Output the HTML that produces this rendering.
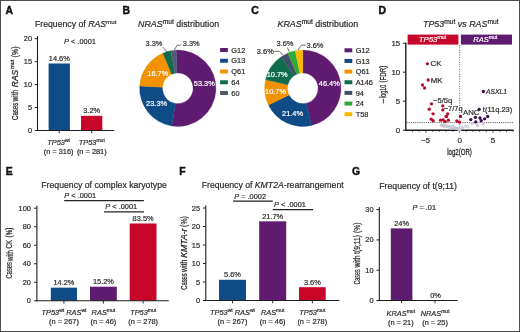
<!DOCTYPE html>
<html><head><meta charset="utf-8"><style>
html,body{margin:0;padding:0;background:#fff;}
#f{position:absolute;left:0;top:0;width:520px;height:332px;box-sizing:border-box;border:1px solid #4d4d4d;background:#fff;overflow:hidden;}
svg{position:absolute;left:-1px;top:-1px;font-family:"Liberation Sans", sans-serif;filter:blur(0.3px);}
</style></head><body><div id="f">
<svg width="520" height="332" viewBox="0 0 520 332">
<text x="5.40" y="13.70" font-size="10.40" text-anchor="start" fill="#111" font-weight="bold" stroke="#111" stroke-width="0.45"><tspan >A</tspan></text>
<text x="35.00" y="27.30" font-size="8.70" text-anchor="start" fill="#2a2a2a" stroke="#2a2a2a" stroke-width="0.20" ><tspan >Frequency of </tspan><tspan font-style="italic">RAS</tspan><tspan font-size="6.26" dy="-3.22">mut</tspan></text>
<text x="64.00" y="44.00" font-size="7.40" text-anchor="start" fill="#2a2a2a" stroke="#2a2a2a" stroke-width="0.20" ><tspan font-style="italic">P</tspan><tspan > &lt; .0001</tspan></text>
<line x1="37.50" y1="131.05" x2="37.50" y2="36.20" stroke="#1e1e1e" stroke-width="1.10" />
<line x1="34.70" y1="130.50" x2="37.50" y2="130.50" stroke="#1e1e1e" stroke-width="1.00" />
<text x="32.10" y="133.05" font-size="7.40" text-anchor="end" fill="#2a2a2a" stroke="#2a2a2a" stroke-width="0.20" ><tspan >0</tspan></text>
<line x1="34.70" y1="107.55" x2="37.50" y2="107.55" stroke="#1e1e1e" stroke-width="1.00" />
<text x="32.10" y="110.10" font-size="7.40" text-anchor="end" fill="#2a2a2a" stroke="#2a2a2a" stroke-width="0.20" ><tspan >5</tspan></text>
<line x1="34.70" y1="84.60" x2="37.50" y2="84.60" stroke="#1e1e1e" stroke-width="1.00" />
<text x="32.10" y="87.15" font-size="7.40" text-anchor="end" fill="#2a2a2a" stroke="#2a2a2a" stroke-width="0.20" ><tspan >10</tspan></text>
<line x1="34.70" y1="61.65" x2="37.50" y2="61.65" stroke="#1e1e1e" stroke-width="1.00" />
<text x="32.10" y="64.20" font-size="7.40" text-anchor="end" fill="#2a2a2a" stroke="#2a2a2a" stroke-width="0.20" ><tspan >15</tspan></text>
<line x1="34.70" y1="38.70" x2="37.50" y2="38.70" stroke="#1e1e1e" stroke-width="1.00" />
<text x="32.10" y="41.25" font-size="7.40" text-anchor="end" fill="#2a2a2a" stroke="#2a2a2a" stroke-width="0.20" ><tspan >20</tspan></text>
<rect x="48.60" y="63.49" width="21.30" height="67.01" fill="#0f4b86"/>
<line x1="59.25" y1="130.50" x2="59.25" y2="133.30" stroke="#1e1e1e" stroke-width="0.90" />
<text x="59.25" y="60.89" font-size="7.40" text-anchor="middle" fill="#2a2a2a" stroke="#2a2a2a" stroke-width="0.20" ><tspan >14.6%</tspan></text>
<rect x="81.00" y="115.81" width="21.30" height="14.69" fill="#c8062a"/>
<line x1="91.65" y1="130.50" x2="91.65" y2="133.30" stroke="#1e1e1e" stroke-width="0.90" />
<text x="91.65" y="113.21" font-size="7.40" text-anchor="middle" fill="#2a2a2a" stroke="#2a2a2a" stroke-width="0.20" ><tspan >3.2%</tspan></text>
<line x1="36.95" y1="130.50" x2="114.40" y2="130.50" stroke="#1e1e1e" stroke-width="1.10" />
<text x="58.60" y="145.10" font-size="7.40" text-anchor="middle" fill="#2a2a2a" stroke="#2a2a2a" stroke-width="0.20" ><tspan font-style="italic">TP53</tspan><tspan font-size="5.03" dy="-2.96">wt</tspan></text>
<text x="58.60" y="154.30" font-size="7.40" text-anchor="middle" fill="#2a2a2a" stroke="#2a2a2a" stroke-width="0.20" ><tspan >(n = 316)</tspan></text>
<text x="91.80" y="145.10" font-size="7.40" text-anchor="middle" fill="#2a2a2a" stroke="#2a2a2a" stroke-width="0.20" ><tspan font-style="italic">TP53</tspan><tspan font-size="5.03" dy="-2.96">mut</tspan></text>
<text x="91.80" y="154.30" font-size="7.40" text-anchor="middle" fill="#2a2a2a" stroke="#2a2a2a" stroke-width="0.20" ><tspan >(n = 281)</tspan></text>
<text x="17.60" y="120.00" font-size="8.30" text-anchor="start" fill="#2a2a2a" textLength="17.20" lengthAdjust="spacingAndGlyphs" transform="rotate(-90 17.60 120.00)"  stroke="#2a2a2a" stroke-width="0.25"><tspan >Cases</tspan></text>
<text x="17.60" y="101.60" font-size="8.30" text-anchor="start" fill="#2a2a2a" textLength="11.80" lengthAdjust="spacingAndGlyphs" transform="rotate(-90 17.60 101.60)"  stroke="#2a2a2a" stroke-width="0.25"><tspan >with</tspan></text>
<text x="17.60" y="87.20" font-size="8.30" text-anchor="start" fill="#2a2a2a" textLength="17.40" lengthAdjust="spacingAndGlyphs" transform="rotate(-90 17.60 87.20)" font-style="italic" stroke="#2a2a2a" stroke-width="0.25"><tspan >RAS</tspan></text>
<text x="14.28" y="68.80" font-size="5.64" text-anchor="start" fill="#2a2a2a" textLength="9.00" lengthAdjust="spacingAndGlyphs" transform="rotate(-90 14.28 68.80)"  stroke="#2a2a2a" stroke-width="0.25"><tspan >mut</tspan></text>
<text x="17.60" y="57.40" font-size="8.30" text-anchor="start" fill="#2a2a2a" textLength="11.00" lengthAdjust="spacingAndGlyphs" transform="rotate(-90 17.60 57.40)"  stroke="#2a2a2a" stroke-width="0.25"><tspan >(%)</tspan></text>
<text x="122.60" y="13.70" font-size="10.40" text-anchor="start" fill="#111" font-weight="bold" stroke="#111" stroke-width="0.45"><tspan >B</tspan></text>
<text x="138.00" y="26.50" font-size="8.90" text-anchor="start" fill="#2a2a2a" stroke="#2a2a2a" stroke-width="0.20" ><tspan font-style="italic">NRAS</tspan><tspan font-size="6.68" dy="-2.67">mut</tspan><tspan dy="2.67"> distribution</tspan></text>
<path d="M176.134 50.136 A38.200 38.200 0 1 1 171.824 126.030 L175.407 103.412 A15.300 15.300 0 1 0 177.133 73.015 Z" fill="#5e1b6f" stroke="#5e1b6f" stroke-width="0.3"/>
<path d="M171.824 126.030 A38.200 38.200 0 0 1 139.671 85.968 L162.529 87.366 A15.300 15.300 0 0 0 175.407 103.412 Z" fill="#0f4b86" stroke="#0f4b86" stroke-width="0.3"/>
<path d="M139.671 85.968 A38.200 38.200 0 0 1 162.874 53.137 L171.822 74.216 A15.300 15.300 0 0 0 162.529 87.366 Z" fill="#f39200" stroke="#f39200" stroke-width="0.3"/>
<path d="M162.874 53.137 A38.200 38.200 0 0 1 170.839 50.740 L175.012 73.256 A15.300 15.300 0 0 0 171.822 74.216 Z" fill="#116c4e" stroke="#116c4e" stroke-width="0.3"/>
<path d="M170.839 50.740 A38.200 38.200 0 0 1 176.134 50.136 L177.133 73.015 A15.300 15.300 0 0 0 175.012 73.256 Z" fill="#505c76" stroke="#505c76" stroke-width="0.3"/>
<rect x="220.10" y="48.00" width="7.80" height="4.00" fill="#5e1b6f"/>
<text x="231.30" y="52.65" font-size="7.40" text-anchor="start" fill="#2a2a2a" stroke="#2a2a2a" stroke-width="0.20" ><tspan >G12</tspan></text>
<rect x="220.10" y="58.75" width="7.80" height="4.00" fill="#0f4b86"/>
<text x="231.30" y="63.40" font-size="7.40" text-anchor="start" fill="#2a2a2a" stroke="#2a2a2a" stroke-width="0.20" ><tspan >G13</tspan></text>
<rect x="220.10" y="69.50" width="7.80" height="4.00" fill="#f39200"/>
<text x="231.30" y="74.15" font-size="7.40" text-anchor="start" fill="#2a2a2a" stroke="#2a2a2a" stroke-width="0.20" ><tspan >Q61</tspan></text>
<rect x="220.10" y="80.25" width="7.80" height="4.00" fill="#116c4e"/>
<text x="231.30" y="84.90" font-size="7.40" text-anchor="start" fill="#2a2a2a" stroke="#2a2a2a" stroke-width="0.20" ><tspan >64</tspan></text>
<rect x="220.10" y="91.00" width="7.80" height="4.00" fill="#4c576e"/>
<text x="231.30" y="95.65" font-size="7.40" text-anchor="start" fill="#2a2a2a" stroke="#2a2a2a" stroke-width="0.20" ><tspan >60</tspan></text>
<text x="204.30" y="85.60" font-size="7.40" text-anchor="middle" fill="#fff" stroke="#fff" stroke-width="0.20" ><tspan >53.3%</tspan></text>
<text x="156.60" y="106.20" font-size="7.40" text-anchor="middle" fill="#fff" stroke="#fff" stroke-width="0.20" ><tspan >23.3%</tspan></text>
<text x="157.80" y="75.60" font-size="7.40" text-anchor="middle" fill="#fff" stroke="#fff" stroke-width="0.20" ><tspan >16.7%</tspan></text>
<text x="154.00" y="46.40" font-size="7.40" text-anchor="middle" fill="#2a2a2a" stroke="#2a2a2a" stroke-width="0.20" ><tspan >3.3%</tspan></text>
<text x="191.20" y="46.40" font-size="7.40" text-anchor="middle" fill="#2a2a2a" stroke="#2a2a2a" stroke-width="0.20" ><tspan >3.3%</tspan></text>
<polyline points="162.90,47.20 167.60,52.80" fill="none" stroke="#333" stroke-width="0.70"/>
<polyline points="181.00,45.20 177.20,45.20 174.00,50.50" fill="none" stroke="#333" stroke-width="0.70"/>
<text x="251.20" y="13.70" font-size="10.40" text-anchor="start" fill="#111" font-weight="bold" stroke="#111" stroke-width="0.45"><tspan >C</tspan></text>
<text x="277.50" y="26.50" font-size="8.90" text-anchor="start" fill="#2a2a2a" stroke="#2a2a2a" stroke-width="0.20" ><tspan font-style="italic">KRAS</tspan><tspan font-size="6.68" dy="-2.67">mut</tspan><tspan dy="2.67"> distribution</tspan></text>
<path d="M302.800 50.100 A38.200 38.200 0 0 1 311.393 125.521 L306.242 103.208 A15.300 15.300 0 0 0 302.800 73.000 Z" fill="#5e1b6f" stroke="#5e1b6f" stroke-width="0.3"/>
<path d="M311.393 125.521 A38.200 38.200 0 0 1 268.466 105.046 L289.048 95.007 A15.300 15.300 0 0 0 306.242 103.208 Z" fill="#0f4b86" stroke="#0f4b86" stroke-width="0.3"/>
<path d="M268.466 105.046 A38.200 38.200 0 0 1 265.579 79.707 L287.892 84.858 A15.300 15.300 0 0 0 289.048 95.007 Z" fill="#f39200" stroke="#f39200" stroke-width="0.3"/>
<path d="M265.579 79.707 A38.200 38.200 0 0 1 281.163 56.818 L294.134 75.691 A15.300 15.300 0 0 0 287.892 84.858 Z" fill="#116c4e" stroke="#116c4e" stroke-width="0.3"/>
<path d="M281.163 56.818 A38.200 38.200 0 0 1 287.874 53.137 L296.822 74.216 A15.300 15.300 0 0 0 294.134 75.691 Z" fill="#415069" stroke="#415069" stroke-width="0.3"/>
<path d="M287.874 53.137 A38.200 38.200 0 0 1 295.184 50.867 L299.750 73.307 A15.300 15.300 0 0 0 296.822 74.216 Z" fill="#2ea836" stroke="#2ea836" stroke-width="0.3"/>
<path d="M295.184 50.867 A38.200 38.200 0 0 1 302.800 50.100 L302.800 73.000 A15.300 15.300 0 0 0 299.750 73.307 Z" fill="#f9b900" stroke="#f9b900" stroke-width="0.3"/>
<rect x="344.50" y="48.30" width="7.80" height="4.00" fill="#5e1b6f"/>
<text x="355.70" y="52.95" font-size="7.40" text-anchor="start" fill="#2a2a2a" stroke="#2a2a2a" stroke-width="0.20" ><tspan >G12</tspan></text>
<rect x="344.50" y="58.95" width="7.80" height="4.00" fill="#0f4b86"/>
<text x="355.70" y="63.60" font-size="7.40" text-anchor="start" fill="#2a2a2a" stroke="#2a2a2a" stroke-width="0.20" ><tspan >G13</tspan></text>
<rect x="344.50" y="69.60" width="7.80" height="4.00" fill="#f39200"/>
<text x="355.70" y="74.25" font-size="7.40" text-anchor="start" fill="#2a2a2a" stroke="#2a2a2a" stroke-width="0.20" ><tspan >Q61</tspan></text>
<rect x="344.50" y="80.25" width="7.80" height="4.00" fill="#116c4e"/>
<text x="355.70" y="84.90" font-size="7.40" text-anchor="start" fill="#2a2a2a" stroke="#2a2a2a" stroke-width="0.20" ><tspan >A146</tspan></text>
<rect x="344.50" y="90.90" width="7.80" height="4.00" fill="#415069"/>
<text x="355.70" y="95.55" font-size="7.40" text-anchor="start" fill="#2a2a2a" stroke="#2a2a2a" stroke-width="0.20" ><tspan >94</tspan></text>
<rect x="344.50" y="101.55" width="7.80" height="4.00" fill="#2ea836"/>
<text x="355.70" y="106.20" font-size="7.40" text-anchor="start" fill="#2a2a2a" stroke="#2a2a2a" stroke-width="0.20" ><tspan >24</tspan></text>
<rect x="344.50" y="112.20" width="7.80" height="4.00" fill="#f9b900"/>
<text x="355.70" y="116.85" font-size="7.40" text-anchor="start" fill="#2a2a2a" stroke="#2a2a2a" stroke-width="0.20" ><tspan >T58</tspan></text>
<text x="329.30" y="86.20" font-size="7.40" text-anchor="middle" fill="#fff" stroke="#fff" stroke-width="0.20" ><tspan >46.4%</tspan></text>
<text x="292.50" y="115.80" font-size="7.40" text-anchor="middle" fill="#fff" stroke="#fff" stroke-width="0.20" ><tspan >21.4%</tspan></text>
<text x="275.50" y="93.60" font-size="7.40" text-anchor="middle" fill="#fff" stroke="#fff" stroke-width="0.20" ><tspan >10.7%</tspan></text>
<text x="277.20" y="77.20" font-size="7.40" text-anchor="middle" fill="#fff" stroke="#fff" stroke-width="0.20" ><tspan >10.7%</tspan></text>
<text x="265.30" y="53.60" font-size="7.40" text-anchor="middle" fill="#2a2a2a" stroke="#2a2a2a" stroke-width="0.20" ><tspan >3.6%</tspan></text>
<text x="285.00" y="45.90" font-size="7.40" text-anchor="middle" fill="#2a2a2a" stroke="#2a2a2a" stroke-width="0.20" ><tspan >3.6%</tspan></text>
<text x="315.00" y="47.90" font-size="7.40" text-anchor="middle" fill="#2a2a2a" stroke="#2a2a2a" stroke-width="0.20" ><tspan >3.6%</tspan></text>
<polyline points="274.20,51.40 279.60,51.40 283.50,55.40" fill="none" stroke="#333" stroke-width="0.70"/>
<polyline points="287.30,47.50 289.60,52.40" fill="none" stroke="#333" stroke-width="0.70"/>
<polyline points="305.80,45.20 301.20,45.20 298.20,50.00" fill="none" stroke="#333" stroke-width="0.70"/>
<text x="378.50" y="13.70" font-size="10.40" text-anchor="start" fill="#111" font-weight="bold" stroke="#111" stroke-width="0.45"><tspan >D</tspan></text>
<text x="423.00" y="26.50" font-size="8.90" text-anchor="start" fill="#2a2a2a" stroke="#2a2a2a" stroke-width="0.20" ><tspan font-style="italic">TP53</tspan><tspan font-size="6.68" dy="-2.67">mut</tspan><tspan font-style="italic" dy="2.67"> vs </tspan><tspan font-style="italic">RAS</tspan><tspan font-size="6.68" dy="-2.67">mut</tspan></text>
<rect x="407.60" y="34.60" width="50.80" height="10.00" fill="#c8062a"/>
<rect x="460.90" y="34.60" width="51.10" height="10.00" fill="#5e1b6f"/>
<text x="432.50" y="42.30" font-size="7.80" text-anchor="middle" fill="#fff" stroke="#fff" stroke-width="0.20" ><tspan font-style="italic">TP53</tspan><tspan font-size="5.30" dy="-3.12">mut</tspan></text>
<text x="485.20" y="42.30" font-size="7.50" text-anchor="middle" fill="#fff" stroke="#fff" stroke-width="0.20" ><tspan font-style="italic">RAS</tspan><tspan font-size="5.10" dy="-3.00">mut</tspan></text>
<line x1="405.80" y1="130.90" x2="405.80" y2="42.70" stroke="#1e1e1e" stroke-width="1.40" />
<line x1="403.00" y1="130.20" x2="405.80" y2="130.20" stroke="#1e1e1e" stroke-width="1.00" />
<text x="400.20" y="132.93" font-size="7.90" text-anchor="end" fill="#2a2a2a" stroke="#2a2a2a" stroke-width="0.20" ><tspan >0</tspan></text>
<line x1="403.00" y1="101.20" x2="405.80" y2="101.20" stroke="#1e1e1e" stroke-width="1.00" />
<text x="400.20" y="103.93" font-size="7.90" text-anchor="end" fill="#2a2a2a" stroke="#2a2a2a" stroke-width="0.20" ><tspan >5</tspan></text>
<line x1="403.00" y1="72.20" x2="405.80" y2="72.20" stroke="#1e1e1e" stroke-width="1.00" />
<text x="400.20" y="74.93" font-size="7.90" text-anchor="end" fill="#2a2a2a" stroke="#2a2a2a" stroke-width="0.20" ><tspan >10</tspan></text>
<line x1="403.00" y1="43.20" x2="405.80" y2="43.20" stroke="#1e1e1e" stroke-width="1.00" />
<text x="400.20" y="45.93" font-size="7.90" text-anchor="end" fill="#2a2a2a" stroke="#2a2a2a" stroke-width="0.20" ><tspan >15</tspan></text>
<line x1="405.10" y1="130.20" x2="513.60" y2="130.20" stroke="#1e1e1e" stroke-width="1.40" />
<line x1="412.46" y1="130.00" x2="412.46" y2="131.80" stroke="#1e1e1e" stroke-width="0.80" />
<line x1="419.18" y1="130.00" x2="419.18" y2="131.80" stroke="#1e1e1e" stroke-width="0.80" />
<line x1="425.90" y1="130.00" x2="425.90" y2="132.60" stroke="#1e1e1e" stroke-width="0.80" />
<line x1="432.62" y1="130.00" x2="432.62" y2="131.80" stroke="#1e1e1e" stroke-width="0.80" />
<line x1="439.34" y1="130.00" x2="439.34" y2="131.80" stroke="#1e1e1e" stroke-width="0.80" />
<line x1="446.06" y1="130.00" x2="446.06" y2="131.80" stroke="#1e1e1e" stroke-width="0.80" />
<line x1="452.78" y1="130.00" x2="452.78" y2="131.80" stroke="#1e1e1e" stroke-width="0.80" />
<line x1="459.50" y1="130.00" x2="459.50" y2="132.60" stroke="#1e1e1e" stroke-width="0.80" />
<line x1="466.22" y1="130.00" x2="466.22" y2="131.80" stroke="#1e1e1e" stroke-width="0.80" />
<line x1="472.94" y1="130.00" x2="472.94" y2="131.80" stroke="#1e1e1e" stroke-width="0.80" />
<line x1="479.66" y1="130.00" x2="479.66" y2="131.80" stroke="#1e1e1e" stroke-width="0.80" />
<line x1="486.38" y1="130.00" x2="486.38" y2="131.80" stroke="#1e1e1e" stroke-width="0.80" />
<line x1="493.10" y1="130.00" x2="493.10" y2="132.60" stroke="#1e1e1e" stroke-width="0.80" />
<line x1="499.82" y1="130.00" x2="499.82" y2="131.80" stroke="#1e1e1e" stroke-width="0.80" />
<line x1="506.54" y1="130.00" x2="506.54" y2="131.80" stroke="#1e1e1e" stroke-width="0.80" />
<line x1="513.26" y1="130.00" x2="513.26" y2="131.80" stroke="#1e1e1e" stroke-width="0.80" />
<text x="425.50" y="142.70" font-size="8.10" text-anchor="middle" fill="#2a2a2a" stroke="#2a2a2a" stroke-width="0.20" ><tspan >−5</tspan></text>
<text x="459.80" y="142.70" font-size="8.10" text-anchor="middle" fill="#2a2a2a" stroke="#2a2a2a" stroke-width="0.20" ><tspan >0</tspan></text>
<text x="493.10" y="142.70" font-size="8.10" text-anchor="middle" fill="#2a2a2a" stroke="#2a2a2a" stroke-width="0.20" ><tspan >5</tspan></text>
<text x="459.50" y="154.60" font-size="8.80" text-anchor="middle" fill="#2a2a2a" textLength="24.60" lengthAdjust="spacingAndGlyphs" stroke="#2a2a2a" stroke-width="0.3"><tspan >log2(OR)</tspan></text>
<text x="385.80" y="103.60" font-size="8.20" text-anchor="start" fill="#2a2a2a" textLength="5.40" lengthAdjust="spacingAndGlyphs" transform="rotate(-90 385.80 103.60)"  stroke="#2a2a2a" stroke-width="0.25"><tspan >−</tspan></text>
<text x="385.80" y="97.80" font-size="8.20" text-anchor="start" fill="#2a2a2a" textLength="12.90" lengthAdjust="spacingAndGlyphs" transform="rotate(-90 385.80 97.80)"  stroke="#2a2a2a" stroke-width="0.25"><tspan >log10</tspan></text>
<text x="385.80" y="82.60" font-size="8.20" text-anchor="start" fill="#2a2a2a" textLength="16.80" lengthAdjust="spacingAndGlyphs" transform="rotate(-90 385.80 82.60)"  stroke="#2a2a2a" stroke-width="0.25"><tspan >(FDR)</tspan></text>
<line x1="459.60" y1="45.00" x2="459.60" y2="130.00" stroke="#444" stroke-width="0.80" stroke-dasharray="1 1.4"/>
<line x1="406.50" y1="122.60" x2="513.00" y2="122.60" stroke="#333" stroke-width="0.90" stroke-dasharray="1 1.15"/>
<circle cx="441.34" cy="125.05" r="1.60" fill="#d8c4d0"/>
<circle cx="442.67" cy="125.40" r="1.60" fill="#c2c6d0"/>
<circle cx="444.13" cy="125.04" r="1.60" fill="#bccccc"/>
<circle cx="444.71" cy="126.24" r="1.60" fill="#c8c4d0"/>
<circle cx="446.16" cy="125.80" r="1.60" fill="#bec4ce"/>
<circle cx="448.10" cy="126.36" r="1.60" fill="#d8c4d0"/>
<circle cx="449.14" cy="126.65" r="1.60" fill="#c2c6d0"/>
<circle cx="450.14" cy="126.54" r="1.60" fill="#bccccc"/>
<circle cx="451.33" cy="127.68" r="1.60" fill="#c8c4d0"/>
<circle cx="452.42" cy="127.81" r="1.60" fill="#bec4ce"/>
<circle cx="453.77" cy="127.28" r="1.60" fill="#d8c4d0"/>
<circle cx="455.06" cy="128.19" r="1.60" fill="#c2c6d0"/>
<circle cx="455.80" cy="127.80" r="1.60" fill="#bccccc"/>
<circle cx="457.57" cy="128.61" r="1.60" fill="#c8c4d0"/>
<circle cx="458.62" cy="129.37" r="1.60" fill="#bec4ce"/>
<circle cx="459.81" cy="129.71" r="1.60" fill="#d8c4d0"/>
<circle cx="446.00" cy="126.80" r="1.60" fill="#d6c8d6"/>
<circle cx="450.00" cy="127.80" r="1.60" fill="#ccd0d8"/>
<circle cx="453.00" cy="126.20" r="1.60" fill="#c8d0d6"/>
<circle cx="462.50" cy="127.60" r="1.60" fill="#cdd0d8"/>
<circle cx="465.50" cy="126.00" r="1.60" fill="#d2d4dc"/>
<circle cx="468.00" cy="126.80" r="1.60" fill="#d6d6de"/>
<circle cx="472.30" cy="123.30" r="1.60" fill="#d6c8de"/>
<circle cx="477.70" cy="125.30" r="1.60" fill="#d0c4dc"/>
<circle cx="483.00" cy="123.30" r="1.60" fill="#d4c8e0"/>
<circle cx="427.40" cy="63.80" r="1.65" fill="#b80a2c"/>
<circle cx="428.20" cy="80.00" r="1.65" fill="#b80a2c"/>
<circle cx="422.50" cy="85.00" r="1.65" fill="#b80a2c"/>
<circle cx="424.60" cy="88.00" r="1.65" fill="#b80a2c"/>
<circle cx="431.50" cy="103.80" r="1.65" fill="#b80a2c"/>
<circle cx="429.20" cy="109.20" r="1.65" fill="#b80a2c"/>
<circle cx="433.10" cy="113.80" r="1.65" fill="#b80a2c"/>
<circle cx="431.20" cy="119.20" r="1.65" fill="#b80a2c"/>
<circle cx="433.10" cy="120.70" r="1.65" fill="#b80a2c"/>
<circle cx="442.80" cy="105.80" r="1.65" fill="#b80a2c"/>
<circle cx="442.80" cy="109.90" r="1.65" fill="#b80a2c"/>
<circle cx="447.70" cy="113.80" r="1.65" fill="#b80a2c"/>
<circle cx="446.20" cy="116.50" r="1.65" fill="#b80a2c"/>
<circle cx="440.60" cy="120.20" r="1.65" fill="#b80a2c"/>
<circle cx="443.20" cy="119.90" r="1.65" fill="#b80a2c"/>
<circle cx="445.20" cy="121.60" r="1.65" fill="#b80a2c"/>
<circle cx="448.40" cy="120.20" r="1.65" fill="#b80a2c"/>
<circle cx="446.50" cy="116.30" r="1.65" fill="#b80a2c"/>
<circle cx="456.90" cy="120.90" r="1.65" fill="#b80a2c"/>
<circle cx="459.50" cy="122.20" r="1.65" fill="#b80a2c"/>
<circle cx="460.50" cy="116.40" r="1.65" fill="#7a1035"/>
<circle cx="483.40" cy="91.50" r="1.65" fill="#3a0d50"/>
<circle cx="479.20" cy="109.30" r="1.65" fill="#3a0d50"/>
<circle cx="470.80" cy="119.60" r="1.65" fill="#3a0d50"/>
<circle cx="475.40" cy="117.30" r="1.65" fill="#3a0d50"/>
<circle cx="475.70" cy="121.90" r="1.65" fill="#3a0d50"/>
<circle cx="480.00" cy="118.00" r="1.65" fill="#3a0d50"/>
<circle cx="481.20" cy="120.70" r="1.65" fill="#3a0d50"/>
<circle cx="484.60" cy="118.80" r="1.65" fill="#3a0d50"/>
<circle cx="487.70" cy="116.50" r="1.65" fill="#3a0d50"/>
<text x="430.50" y="66.40" font-size="7.80" text-anchor="start" fill="#2a2a2a" stroke="#2a2a2a" stroke-width="0.20" ><tspan >CK</tspan></text>
<text x="430.80" y="82.60" font-size="7.80" text-anchor="start" fill="#2a2a2a" stroke="#2a2a2a" stroke-width="0.20" ><tspan >MK</tspan></text>
<text x="433.00" y="103.20" font-size="7.60" text-anchor="start" fill="#2a2a2a" stroke="#2a2a2a" stroke-width="0.20" ><tspan >−5/5q</tspan></text>
<text x="443.80" y="110.80" font-size="7.40" text-anchor="start" fill="#2a2a2a" stroke="#2a2a2a" stroke-width="0.20" ><tspan >−7/7q</tspan></text>
<text x="463.00" y="115.40" font-size="7.80" text-anchor="start" fill="#2a2a2a" stroke="#2a2a2a" stroke-width="0.20" ><tspan >ANC</tspan></text>
<text x="482.80" y="112.00" font-size="7.80" text-anchor="start" fill="#2a2a2a" stroke="#2a2a2a" stroke-width="0.20" textLength="29.50" lengthAdjust="spacingAndGlyphs" ><tspan >t(11q.23)</tspan></text>
<text x="486.00" y="94.20" font-size="7.60" text-anchor="start" fill="#2a2a2a" stroke="#2a2a2a" stroke-width="0.20" textLength="21.00" lengthAdjust="spacingAndGlyphs" font-style="italic"><tspan >ASXL1</tspan></text>
<text x="5.80" y="174.80" font-size="10.40" text-anchor="start" fill="#111" font-weight="bold" stroke="#111" stroke-width="0.45"><tspan >E</tspan></text>
<text x="41.30" y="188.00" font-size="8.70" text-anchor="start" fill="#2a2a2a" stroke="#2a2a2a" stroke-width="0.20" ><tspan >Frequency of complex karyotype</tspan></text>
<line x1="36.90" y1="301.35" x2="36.90" y2="205.70" stroke="#1e1e1e" stroke-width="1.10" />
<line x1="34.10" y1="300.80" x2="36.90" y2="300.80" stroke="#1e1e1e" stroke-width="1.00" />
<text x="30.90" y="303.35" font-size="7.40" text-anchor="end" fill="#2a2a2a" stroke="#2a2a2a" stroke-width="0.20" ><tspan >0</tspan></text>
<line x1="34.10" y1="282.28" x2="36.90" y2="282.28" stroke="#1e1e1e" stroke-width="1.00" />
<text x="30.90" y="284.83" font-size="7.40" text-anchor="end" fill="#2a2a2a" stroke="#2a2a2a" stroke-width="0.20" ><tspan >20</tspan></text>
<line x1="34.10" y1="263.76" x2="36.90" y2="263.76" stroke="#1e1e1e" stroke-width="1.00" />
<text x="30.90" y="266.31" font-size="7.40" text-anchor="end" fill="#2a2a2a" stroke="#2a2a2a" stroke-width="0.20" ><tspan >40</tspan></text>
<line x1="34.10" y1="245.24" x2="36.90" y2="245.24" stroke="#1e1e1e" stroke-width="1.00" />
<text x="30.90" y="247.79" font-size="7.40" text-anchor="end" fill="#2a2a2a" stroke="#2a2a2a" stroke-width="0.20" ><tspan >60</tspan></text>
<line x1="34.10" y1="226.72" x2="36.90" y2="226.72" stroke="#1e1e1e" stroke-width="1.00" />
<text x="30.90" y="229.27" font-size="7.40" text-anchor="end" fill="#2a2a2a" stroke="#2a2a2a" stroke-width="0.20" ><tspan >80</tspan></text>
<line x1="34.10" y1="208.20" x2="36.90" y2="208.20" stroke="#1e1e1e" stroke-width="1.00" />
<text x="30.90" y="210.75" font-size="7.40" text-anchor="end" fill="#2a2a2a" stroke="#2a2a2a" stroke-width="0.20" ><tspan >100</tspan></text>
<rect x="50.80" y="287.65" width="26.20" height="13.15" fill="#0f4b86"/>
<line x1="63.90" y1="300.80" x2="63.90" y2="303.60" stroke="#1e1e1e" stroke-width="0.90" />
<text x="63.90" y="285.05" font-size="7.40" text-anchor="middle" fill="#2a2a2a" stroke="#2a2a2a" stroke-width="0.20" ><tspan >14.2%</tspan></text>
<rect x="90.00" y="286.72" width="26.80" height="14.08" fill="#5e1b6f"/>
<line x1="103.40" y1="300.80" x2="103.40" y2="303.60" stroke="#1e1e1e" stroke-width="0.90" />
<text x="103.40" y="284.12" font-size="7.40" text-anchor="middle" fill="#2a2a2a" stroke="#2a2a2a" stroke-width="0.20" ><tspan >15.2%</tspan></text>
<rect x="129.70" y="223.48" width="26.80" height="77.32" fill="#c8062a"/>
<line x1="143.10" y1="300.80" x2="143.10" y2="303.60" stroke="#1e1e1e" stroke-width="0.90" />
<text x="143.10" y="220.88" font-size="7.40" text-anchor="middle" fill="#2a2a2a" stroke="#2a2a2a" stroke-width="0.20" ><tspan >83.5%</tspan></text>
<line x1="36.35" y1="300.80" x2="168.70" y2="300.80" stroke="#1e1e1e" stroke-width="1.10" />
<text x="64.30" y="197.70" font-size="7.40" text-anchor="start" fill="#2a2a2a" stroke="#2a2a2a" stroke-width="0.20" ><tspan font-style="italic">P</tspan><tspan > &lt; .0001</tspan></text>
<line x1="64.20" y1="200.70" x2="143.90" y2="200.70" stroke="#222" stroke-width="1.25" />
<text x="105.30" y="208.70" font-size="7.40" text-anchor="start" fill="#2a2a2a" stroke="#2a2a2a" stroke-width="0.20" ><tspan font-style="italic">P</tspan><tspan > &lt; .0001</tspan></text>
<line x1="104.00" y1="211.80" x2="143.90" y2="211.80" stroke="#222" stroke-width="1.25" />
<text x="64.00" y="315.30" font-size="7.40" text-anchor="middle" fill="#2a2a2a" stroke="#2a2a2a" stroke-width="0.20" ><tspan font-style="italic">TP53</tspan><tspan font-size="5.03" dy="-2.96">wt</tspan><tspan dy="2.96"> </tspan><tspan font-style="italic">RAS</tspan><tspan font-size="5.03" dy="-2.96">wt</tspan></text>
<text x="64.00" y="324.00" font-size="7.40" text-anchor="middle" fill="#2a2a2a" stroke="#2a2a2a" stroke-width="0.20" ><tspan >(n = 267)</tspan></text>
<text x="103.40" y="315.30" font-size="7.40" text-anchor="middle" fill="#2a2a2a" stroke="#2a2a2a" stroke-width="0.20" ><tspan font-style="italic">RAS</tspan><tspan font-size="5.03" dy="-2.96">mut</tspan></text>
<text x="103.40" y="324.00" font-size="7.40" text-anchor="middle" fill="#2a2a2a" stroke="#2a2a2a" stroke-width="0.20" ><tspan >(n = 46)</tspan></text>
<text x="143.20" y="315.30" font-size="7.40" text-anchor="middle" fill="#2a2a2a" stroke="#2a2a2a" stroke-width="0.20" ><tspan font-style="italic">TP53</tspan><tspan font-size="5.03" dy="-2.96">mut</tspan></text>
<text x="143.20" y="324.00" font-size="7.40" text-anchor="middle" fill="#2a2a2a" stroke="#2a2a2a" stroke-width="0.20" ><tspan >(n = 278)</tspan></text>
<text x="12.50" y="278.40" font-size="8.50" text-anchor="start" fill="#2a2a2a" textLength="16.20" lengthAdjust="spacingAndGlyphs" transform="rotate(-90 12.50 278.40)"  stroke="#2a2a2a" stroke-width="0.25"><tspan >Cases</tspan></text>
<text x="12.50" y="261.00" font-size="8.50" text-anchor="start" fill="#2a2a2a" textLength="11.00" lengthAdjust="spacingAndGlyphs" transform="rotate(-90 12.50 261.00)"  stroke="#2a2a2a" stroke-width="0.25"><tspan >with</tspan></text>
<text x="12.50" y="248.40" font-size="8.50" text-anchor="start" fill="#2a2a2a" textLength="8.60" lengthAdjust="spacingAndGlyphs" transform="rotate(-90 12.50 248.40)"  stroke="#2a2a2a" stroke-width="0.25"><tspan >CK</tspan></text>
<text x="12.50" y="237.40" font-size="8.50" text-anchor="start" fill="#2a2a2a" textLength="9.60" lengthAdjust="spacingAndGlyphs" transform="rotate(-90 12.50 237.40)"  stroke="#2a2a2a" stroke-width="0.25"><tspan >(%)</tspan></text>
<text x="179.30" y="174.80" font-size="10.40" text-anchor="start" fill="#111" font-weight="bold" stroke="#111" stroke-width="0.45"><tspan >F</tspan></text>
<text x="201.70" y="188.20" font-size="8.70" text-anchor="start" fill="#2a2a2a" stroke="#2a2a2a" stroke-width="0.20" ><tspan >Frequency of </tspan><tspan font-style="italic">KMT2A</tspan><tspan >-rearrangement</tspan></text>
<line x1="205.80" y1="301.05" x2="205.80" y2="205.50" stroke="#1e1e1e" stroke-width="1.10" />
<line x1="203.00" y1="300.50" x2="205.80" y2="300.50" stroke="#1e1e1e" stroke-width="1.00" />
<text x="200.00" y="303.05" font-size="7.40" text-anchor="end" fill="#2a2a2a" stroke="#2a2a2a" stroke-width="0.20" ><tspan >0</tspan></text>
<line x1="203.00" y1="282.00" x2="205.80" y2="282.00" stroke="#1e1e1e" stroke-width="1.00" />
<text x="200.00" y="284.55" font-size="7.40" text-anchor="end" fill="#2a2a2a" stroke="#2a2a2a" stroke-width="0.20" ><tspan >5</tspan></text>
<line x1="203.00" y1="263.50" x2="205.80" y2="263.50" stroke="#1e1e1e" stroke-width="1.00" />
<text x="200.00" y="266.05" font-size="7.40" text-anchor="end" fill="#2a2a2a" stroke="#2a2a2a" stroke-width="0.20" ><tspan >10</tspan></text>
<line x1="203.00" y1="245.00" x2="205.80" y2="245.00" stroke="#1e1e1e" stroke-width="1.00" />
<text x="200.00" y="247.55" font-size="7.40" text-anchor="end" fill="#2a2a2a" stroke="#2a2a2a" stroke-width="0.20" ><tspan >15</tspan></text>
<line x1="203.00" y1="226.50" x2="205.80" y2="226.50" stroke="#1e1e1e" stroke-width="1.00" />
<text x="200.00" y="229.05" font-size="7.40" text-anchor="end" fill="#2a2a2a" stroke="#2a2a2a" stroke-width="0.20" ><tspan >20</tspan></text>
<line x1="203.00" y1="208.00" x2="205.80" y2="208.00" stroke="#1e1e1e" stroke-width="1.00" />
<text x="200.00" y="210.55" font-size="7.40" text-anchor="end" fill="#2a2a2a" stroke="#2a2a2a" stroke-width="0.20" ><tspan >25</tspan></text>
<rect x="219.00" y="279.78" width="27.00" height="20.72" fill="#0f4b86"/>
<line x1="232.50" y1="300.50" x2="232.50" y2="303.30" stroke="#1e1e1e" stroke-width="0.90" />
<text x="232.50" y="277.18" font-size="7.40" text-anchor="middle" fill="#2a2a2a" stroke="#2a2a2a" stroke-width="0.20" ><tspan >5.6%</tspan></text>
<rect x="259.20" y="221.32" width="27.00" height="79.18" fill="#5e1b6f"/>
<line x1="272.70" y1="300.50" x2="272.70" y2="303.30" stroke="#1e1e1e" stroke-width="0.90" />
<text x="272.70" y="218.72" font-size="7.40" text-anchor="middle" fill="#2a2a2a" stroke="#2a2a2a" stroke-width="0.20" ><tspan >21.7%</tspan></text>
<rect x="299.00" y="287.18" width="26.70" height="13.32" fill="#c8062a"/>
<line x1="312.35" y1="300.50" x2="312.35" y2="303.30" stroke="#1e1e1e" stroke-width="0.90" />
<text x="312.35" y="284.58" font-size="7.40" text-anchor="middle" fill="#2a2a2a" stroke="#2a2a2a" stroke-width="0.20" ><tspan >3.6%</tspan></text>
<line x1="205.25" y1="300.50" x2="339.40" y2="300.50" stroke="#1e1e1e" stroke-width="1.10" />
<text x="234.20" y="198.70" font-size="7.40" text-anchor="start" fill="#2a2a2a" stroke="#2a2a2a" stroke-width="0.20" ><tspan font-style="italic">P</tspan><tspan > = .0002</tspan></text>
<line x1="233.00" y1="201.00" x2="272.70" y2="201.00" stroke="#222" stroke-width="1.25" />
<text x="274.00" y="207.00" font-size="7.40" text-anchor="start" fill="#2a2a2a" stroke="#2a2a2a" stroke-width="0.20" ><tspan font-style="italic">P</tspan><tspan > &lt; .0001</tspan></text>
<line x1="272.70" y1="209.50" x2="313.10" y2="209.50" stroke="#222" stroke-width="1.25" />
<text x="232.50" y="315.30" font-size="7.40" text-anchor="middle" fill="#2a2a2a" stroke="#2a2a2a" stroke-width="0.20" ><tspan font-style="italic">TP53</tspan><tspan font-size="5.03" dy="-2.96">wt</tspan><tspan dy="2.96"> </tspan><tspan font-style="italic">RAS</tspan><tspan font-size="5.03" dy="-2.96">wt</tspan></text>
<text x="232.50" y="324.00" font-size="7.40" text-anchor="middle" fill="#2a2a2a" stroke="#2a2a2a" stroke-width="0.20" ><tspan >(n = 267)</tspan></text>
<text x="272.70" y="315.30" font-size="7.40" text-anchor="middle" fill="#2a2a2a" stroke="#2a2a2a" stroke-width="0.20" ><tspan font-style="italic">RAS</tspan><tspan font-size="5.03" dy="-2.96">mut</tspan></text>
<text x="272.70" y="324.00" font-size="7.40" text-anchor="middle" fill="#2a2a2a" stroke="#2a2a2a" stroke-width="0.20" ><tspan >(n = 46)</tspan></text>
<text x="312.30" y="315.30" font-size="7.40" text-anchor="middle" fill="#2a2a2a" stroke="#2a2a2a" stroke-width="0.20" ><tspan font-style="italic">TP53</tspan><tspan font-size="5.03" dy="-2.96">mut</tspan></text>
<text x="312.30" y="324.00" font-size="7.40" text-anchor="middle" fill="#2a2a2a" stroke="#2a2a2a" stroke-width="0.20" ><tspan >(n = 278)</tspan></text>
<text x="186.80" y="289.80" font-size="8.20" text-anchor="start" fill="#2a2a2a" textLength="16.60" lengthAdjust="spacingAndGlyphs" transform="rotate(-90 186.80 289.80)"  stroke="#2a2a2a" stroke-width="0.25"><tspan >Cases</tspan></text>
<text x="186.80" y="272.00" font-size="8.20" text-anchor="start" fill="#2a2a2a" textLength="12.40" lengthAdjust="spacingAndGlyphs" transform="rotate(-90 186.80 272.00)"  stroke="#2a2a2a" stroke-width="0.25"><tspan >with</tspan></text>
<text x="186.80" y="257.80" font-size="8.20" text-anchor="start" fill="#2a2a2a" textLength="29.30" lengthAdjust="spacingAndGlyphs" transform="rotate(-90 186.80 257.80)" font-style="italic" stroke="#2a2a2a" stroke-width="0.25"><tspan >KMTA-r</tspan></text>
<text x="186.80" y="226.90" font-size="8.20" text-anchor="start" fill="#2a2a2a" textLength="10.70" lengthAdjust="spacingAndGlyphs" transform="rotate(-90 186.80 226.90)"  stroke="#2a2a2a" stroke-width="0.25"><tspan >(%)</tspan></text>
<text x="352.10" y="174.90" font-size="10.40" text-anchor="start" fill="#111" font-weight="bold" stroke="#111" stroke-width="0.45"><tspan >G</tspan></text>
<text x="379.30" y="188.60" font-size="8.70" text-anchor="start" fill="#2a2a2a" stroke="#2a2a2a" stroke-width="0.20" ><tspan >Frequency of t(9;11)</tspan></text>
<line x1="379.30" y1="301.05" x2="379.30" y2="207.10" stroke="#1e1e1e" stroke-width="1.10" />
<line x1="376.50" y1="300.50" x2="379.30" y2="300.50" stroke="#1e1e1e" stroke-width="1.00" />
<text x="373.50" y="303.05" font-size="7.40" text-anchor="end" fill="#2a2a2a" stroke="#2a2a2a" stroke-width="0.20" ><tspan >0</tspan></text>
<line x1="376.50" y1="270.20" x2="379.30" y2="270.20" stroke="#1e1e1e" stroke-width="1.00" />
<text x="373.50" y="272.75" font-size="7.40" text-anchor="end" fill="#2a2a2a" stroke="#2a2a2a" stroke-width="0.20" ><tspan >10</tspan></text>
<line x1="376.50" y1="239.90" x2="379.30" y2="239.90" stroke="#1e1e1e" stroke-width="1.00" />
<text x="373.50" y="242.45" font-size="7.40" text-anchor="end" fill="#2a2a2a" stroke="#2a2a2a" stroke-width="0.20" ><tspan >20</tspan></text>
<line x1="376.50" y1="209.60" x2="379.30" y2="209.60" stroke="#1e1e1e" stroke-width="1.00" />
<text x="373.50" y="212.15" font-size="7.40" text-anchor="end" fill="#2a2a2a" stroke="#2a2a2a" stroke-width="0.20" ><tspan >30</tspan></text>
<rect x="390.80" y="228.39" width="21.60" height="72.11" fill="#5e1b6f"/>
<line x1="401.60" y1="300.50" x2="401.60" y2="303.30" stroke="#1e1e1e" stroke-width="0.90" />
<text x="401.60" y="225.79" font-size="7.40" text-anchor="middle" fill="#2a2a2a" stroke="#2a2a2a" stroke-width="0.20" ><tspan >24%</tspan></text>
<line x1="435.00" y1="300.50" x2="435.00" y2="303.30" stroke="#1e1e1e" stroke-width="0.90" />
<line x1="378.75" y1="300.50" x2="457.70" y2="300.50" stroke="#1e1e1e" stroke-width="1.10" />
<text x="435.50" y="298.00" font-size="7.40" text-anchor="middle" fill="#2a2a2a" stroke="#2a2a2a" stroke-width="0.20" ><tspan >0%</tspan></text>
<text x="412.40" y="210.30" font-size="7.40" text-anchor="start" fill="#2a2a2a" stroke="#2a2a2a" stroke-width="0.20" ><tspan font-style="italic">P</tspan><tspan > = .01</tspan></text>
<text x="400.80" y="316.20" font-size="7.40" text-anchor="middle" fill="#2a2a2a" stroke="#2a2a2a" stroke-width="0.20" ><tspan font-style="italic">KRAS</tspan><tspan font-size="5.03" dy="-2.96">mut</tspan></text>
<text x="400.80" y="324.60" font-size="7.40" text-anchor="middle" fill="#2a2a2a" stroke="#2a2a2a" stroke-width="0.20" ><tspan >(n = 21)</tspan></text>
<text x="435.10" y="316.20" font-size="7.40" text-anchor="middle" fill="#2a2a2a" stroke="#2a2a2a" stroke-width="0.20" ><tspan font-style="italic">NRAS</tspan><tspan font-size="5.03" dy="-2.96">mut</tspan></text>
<text x="435.10" y="324.60" font-size="7.40" text-anchor="middle" fill="#2a2a2a" stroke="#2a2a2a" stroke-width="0.20" ><tspan >(n = 25)</tspan></text>
<text x="359.80" y="284.60" font-size="8.60" text-anchor="start" fill="#2a2a2a" textLength="15.40" lengthAdjust="spacingAndGlyphs" transform="rotate(-90 359.80 284.60)"  stroke="#2a2a2a" stroke-width="0.25"><tspan >Cases</tspan></text>
<text x="359.80" y="267.50" font-size="8.60" text-anchor="start" fill="#2a2a2a" textLength="12.20" lengthAdjust="spacingAndGlyphs" transform="rotate(-90 359.80 267.50)"  stroke="#2a2a2a" stroke-width="0.25"><tspan >with</tspan></text>
<text x="359.80" y="253.90" font-size="8.60" text-anchor="start" fill="#2a2a2a" textLength="18.80" lengthAdjust="spacingAndGlyphs" transform="rotate(-90 359.80 253.90)"  stroke="#2a2a2a" stroke-width="0.25"><tspan >t(9;11)</tspan></text>
<text x="359.80" y="232.90" font-size="8.60" text-anchor="start" fill="#2a2a2a" textLength="10.50" lengthAdjust="spacingAndGlyphs" transform="rotate(-90 359.80 232.90)"  stroke="#2a2a2a" stroke-width="0.25"><tspan >(%)</tspan></text>
</svg></div></body></html>
